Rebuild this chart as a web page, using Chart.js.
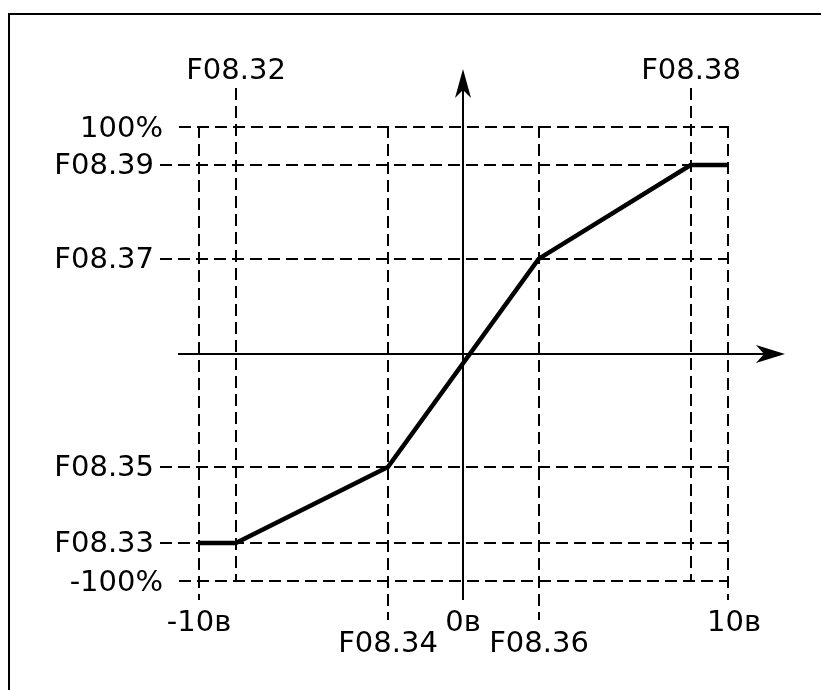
<!DOCTYPE html>
<html>
<head>
<meta charset="utf-8">
<script src="https://cdn.jsdelivr.net/npm/chart.js@4"></script>
<style>
  html, body { margin: 0; padding: 0; background: #fff; }
  #wrap { width: 821px; height: 690px; position: relative; }
</style>
</head>
<body>
<div id="wrap"><canvas id="aiChart"></canvas></div>
<script>
// Характеристика аналогового входу: напруга (В) -> уставка (%)
const inputVolts = [-10, -8.6, -2.85, 2.85, 8.6, 10];
const outputPct = [-83.3, -83.3, -49.8, 41.9, 83.3, 83.3];

// Параметри по осі X (точки зламу по напрузі)
const xParamNames = ['F08.32', 'F08.34', 'F08.36', 'F08.38'];
const xParamValues = [-8.6, -2.85, 2.85, 8.6];
const xParamSide = ['top', 'bottom', 'bottom', 'top'];

// Параметри по осі Y (точки зламу по уставці)
const yParamNames = ['F08.33', 'F08.35', 'F08.37', 'F08.39'];
const yParamValues = [-83.3, -49.8, 41.9, 83.3];

// Підписи меж шкал
const xTickLabels = ['-10в', '0в', '10в'];
const xTickValues = [-10, 0, 10];
const yTickLabels = ['-100%', '100%'];
const yTickValues = [-100, 100];

const FONT = '29px "DejaVu Sans", sans-serif';

function line(ctx, x1, y1, x2, y2) {
    ctx.beginPath();
    ctx.moveTo(x1, y1);
    ctx.lineTo(x2, y2);
    ctx.stroke();
}

// Сітка, осі зі стрілками та підписи
const schemePlugin = {
    id: 'scheme',
    beforeDatasetsDraw(chart) {
        const ctx = chart.ctx;
        const xs = chart.scales.x, ys = chart.scales.y;
        const px = v => Math.round(xs.getPixelForValue(v));
        const py = v => Math.round(ys.getPixelForValue(v));
        const xL = px(-10), xR = px(10);
        const yT = py(100), yB = py(-100);
        const x0 = px(0), y0 = py(0);

        ctx.save();
        // рамка
        ctx.strokeStyle = '#000';
        ctx.lineWidth = 2;
        ctx.strokeRect(9, 14, 900, 900);

        // штрихові лінії
        ctx.setLineDash([12, 6]);
        ctx.lineWidth = 2;
        yTickValues.forEach(v => {
            const y = py(v);
            line(ctx, xL - 20, y, xR + 1, y);
        });
        yParamValues.forEach(v => {
            const y = py(v);
            line(ctx, xL - 39, y, xR + 1, y);
        });
        [-10, 10].forEach(v => {
            const x = px(v);
            line(ctx, x, yT - 1, x, yB + 19);
        });
        xParamValues.forEach((v, i) => {
            const x = px(v);
            if (xParamSide[i] === 'top') line(ctx, x, yT - 39, x, yB + 1);
            else line(ctx, x, yT - 1, x, yB + 39);
        });
        ctx.setLineDash([]);

        // осі
        ctx.lineWidth = 2;
        const tipX = xR + 57, tipY = yT - 58;
        line(ctx, xL - 21, y0, tipX - 8, y0);
        line(ctx, x0, yB + 19, x0, tipY + 8);
        ctx.fillStyle = '#000';
        ctx.beginPath();
        ctx.moveTo(tipX, y0);
        ctx.lineTo(tipX - 29, y0 - 9);
        ctx.lineTo(tipX - 21, y0);
        ctx.lineTo(tipX - 29, y0 + 9);
        ctx.closePath();
        ctx.fill();
        ctx.beginPath();
        ctx.moveTo(x0, tipY);
        ctx.lineTo(x0 - 8, tipY + 29);
        ctx.lineTo(x0, tipY + 21);
        ctx.lineTo(x0 + 8, tipY + 29);
        ctx.closePath();
        ctx.fill();

        // підписи
        ctx.font = FONT;
        ctx.fillStyle = '#000';
        ctx.textBaseline = 'middle';
        ctx.textAlign = 'right';
        yTickLabels.forEach((t, i) => {
            ctx.fillText(t, xL - 36, py(yTickValues[i]) + 2);
        });
        yParamNames.forEach((t, i) => {
            ctx.fillText(t, xL - 45, py(yParamValues[i]) + 1);
        });
        ctx.textAlign = 'center';
        xTickLabels.forEach((t, i) => {
            ctx.fillText(t, px(xTickValues[i]) + (i === 2 ? 6 : 0), yB + 42);
        });
        xParamNames.forEach((t, i) => {
            const x = px(xParamValues[i]);
            const y = xParamSide[i] === 'top' ? yT - 56 : yB + 63;
            ctx.fillText(t, x, y);
        });
        ctx.restore();
    }
};

const ctx = document.getElementById('aiChart').getContext('2d');
new Chart(ctx, {
    type: 'scatter',
    data: {
        datasets: [{
            data: inputVolts.map((v, i) => ({ x: v, y: outputPct[i] })),
            showLine: true,
            borderColor: '#000',
            borderWidth: 4.5,
            pointRadius: 0,
            tension: 0
        }]
    },
    options: {
        responsive: true,
        maintainAspectRatio: false,
        animation: false,
        layout: { padding: { left: 146, right: 14, top: 59, bottom: 41 } },
        plugins: { legend: { display: false }, tooltip: { enabled: false } },
        scales: {
            x: { type: 'linear', min: -12, max: 13, display: false },
            y: { type: 'linear', min: -130, max: 130, display: false }
        }
    },
    plugins: [schemePlugin]
});
</script>
</body>
</html>
